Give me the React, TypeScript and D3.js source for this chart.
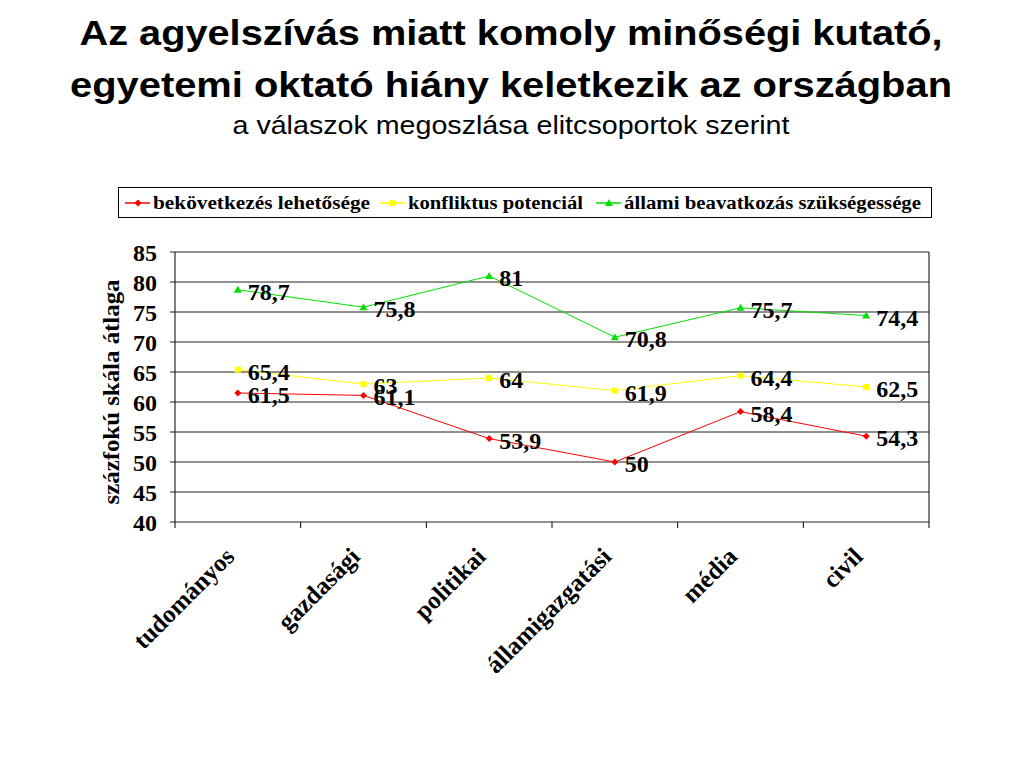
import React from "react";
import * as d3 from "d3";

const categories = ["tudományos", "gazdasági", "politikai", "államigazgatási", "média", "civil"];
const bekovetkezes = [61.5, 61.1, 53.9, 50, 58.4, 54.3];
const konfliktus = [65.4, 63, 64, 61.9, 64.4, 62.5];
const allami = [78.7, 75.8, 81, 70.8, 75.7, 74.4];
const seriesNames = ["bekövetkezés lehetősége", "konfliktus potenciál", "állami beavatkozás szükségessége"];
const yTicks = [40, 45, 50, 55, 60, 65, 70, 75, 80, 85];

const W = 1024, H = 768;
const plot = { left: 175, right: 929, top: 252, bottom: 522 };
const serif = "'Liberation Serif', 'Times New Roman', serif";
const sans = "'Liberation Sans', Arial, sans-serif";

const fmt = (v: number) => String(v).replace(".", ",");

function Marker({ kind, x, y, color }: { kind: string; x: number; y: number; color: string }) {
  if (kind === "diamond") {
    const s = 3.5;
    return <path d={`M${x},${y - s}L${x + s},${y}L${x},${y + s}L${x - s},${y}Z`} fill={color} />;
  }
  if (kind === "square") {
    return <rect x={x - 3} y={y - 3} width={6} height={6} fill={color} />;
  }
  return <path d={`M${x},${y - 4}L${x + 4},${y + 3}L${x - 4},${y + 3}Z`} fill={color} />;
}

export default function App() {
  const x = d3.scaleBand<string>().domain(categories).range([plot.left, plot.right]);
  const y = d3.scaleLinear().domain([40, 85]).range([plot.bottom, plot.top]);
  const cx = (c: string) => (x(c) as number) + x.bandwidth() / 2;

  const series = [
    { name: seriesNames[0], data: bekovetkezes, color: "#FF0000", marker: "diamond" },
    { name: seriesNames[1], data: konfliktus, color: "#FFFF00", marker: "square" },
    { name: seriesNames[2], data: allami, color: "#00E000", marker: "triangle" },
  ];

  const line = d3
    .line<number>()
    .x((_, i) => cx(categories[i]))
    .y((d) => y(d));

  const legendItems = [
    { x: 125, textX: 153, tl: 217 },
    { x: 380, textX: 408, tl: 175 },
    { x: 596, textX: 624, tl: 297 },
  ];

  const boundaries = d3.range(categories.length + 1).map((i) => plot.left + i * x.bandwidth());

  return (
    <svg width={W} height={H} style={{ position: "absolute", left: 0, top: 0, background: "#fff" }}>
      <rect width={W} height={H} fill="#fff" />
      <g fontFamily={sans} textAnchor="middle" fill="#000">
        <text x={511} y={45} fontSize={35} fontWeight="bold" textLength={863} lengthAdjust="spacingAndGlyphs">
          Az agyelszívás miatt komoly minőségi kutató,
        </text>
        <text x={511} y={97} fontSize={35} fontWeight="bold" textLength={882} lengthAdjust="spacingAndGlyphs">
          egyetemi oktató hiány keletkezik az országban
        </text>
        <text x={511} y={134} fontSize={25} textLength={557} lengthAdjust="spacingAndGlyphs">
          a válaszok megoszlása elitcsoportok szerint
        </text>
      </g>

      {/* legend */}
      <rect x={118.5} y={187.5} width={813} height={30} fill="#fff" stroke="#000" strokeWidth={1} />
      {series.map((s, i) => (
        <g key={s.name}>
          <line x1={legendItems[i].x} x2={legendItems[i].x + 25} y1={203} y2={203} stroke={s.color} strokeWidth={1.5} />
          <Marker kind={s.marker} x={legendItems[i].x + 13} y={203} color={s.color} />
          <text
            x={legendItems[i].textX}
            y={209}
            fontFamily={serif}
            fontWeight="bold"
            fontSize={18}
            textLength={legendItems[i].tl}
            lengthAdjust="spacingAndGlyphs"
          >
            {s.name}
          </text>
        </g>
      ))}

      {/* grid */}
      {yTicks.map((t) => (
        <g key={t}>
          <line x1={plot.left - 5} x2={plot.right} y1={y(t)} y2={y(t)} stroke="#222" strokeWidth={1.2} />
          <text
            x={157}
            y={y(t) + 8.5}
            textAnchor="end"
            fontFamily={serif}
            fontWeight="bold"
            fontSize={24}
          >
            {t}
          </text>
        </g>
      ))}
      <line x1={plot.left} x2={plot.left} y1={plot.top} y2={plot.bottom} stroke="#000" />
      <line x1={plot.right} x2={plot.right} y1={plot.top} y2={plot.bottom} stroke="#000" />
      {boundaries.map((b, i) => (
        <line key={i} x1={b} x2={b} y1={plot.bottom} y2={plot.bottom + 6} stroke="#000" />
      ))}

      <text
        transform={`translate(119,392) rotate(-90)`}
        textAnchor="middle"
        fontFamily={serif}
        fontWeight="bold"
        fontSize={23}
        textLength={225}
        lengthAdjust="spacingAndGlyphs"
      >
        százfokú skála átlaga
      </text>

      {/* category labels */}
      {categories.map((c) => (
        <text
          key={c}
          transform={`translate(${cx(c) - 2},${plot.bottom + 36}) rotate(-45)`}
          textAnchor="end"
          fontFamily={serif}
          fontWeight="bold"
          fontSize={25}
        >
          {c}
        </text>
      ))}

      {/* series */}
      {series.map((s) => (
        <g key={s.name}>
          <path d={line(s.data) || ""} fill="none" stroke={s.color} strokeWidth={1} />
          {s.data.map((v, i) => (
            <Marker key={i} kind={s.marker} x={cx(categories[i])} y={y(v)} color={s.color} />
          ))}
          {s.data.map((v, i) => (
            <text
              key={"l" + i}
              x={cx(categories[i]) + 10}
              y={y(v) + 10}
              fontFamily={serif}
              fontWeight="bold"
              fontSize={24}
            >
              {fmt(v)}
            </text>
          ))}
        </g>
      ))}
    </svg>
  );
}
